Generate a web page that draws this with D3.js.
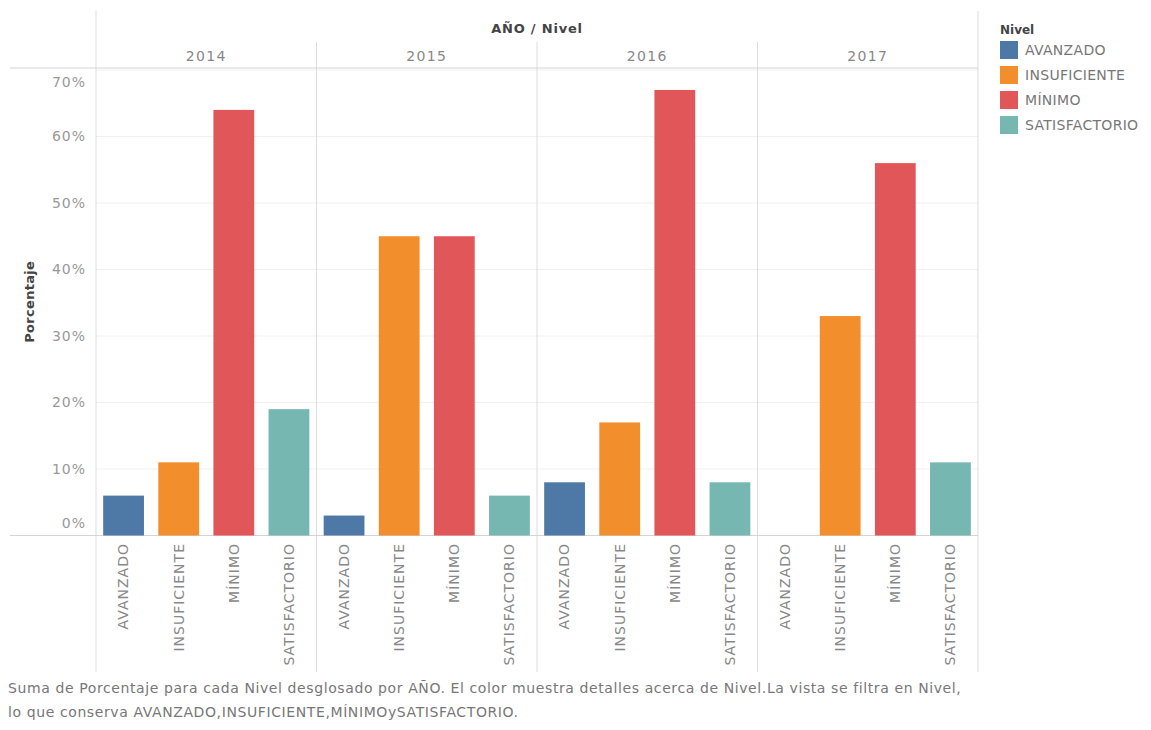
<!DOCTYPE html>
<html>
<head>
    <title>Porcentaje por Nivel</title>
    <script src="https://d3js.org/d3.v7.min.js"></script>
    <style>
        body { margin: 0; background: #fff; }
        text { font-family: "DejaVu Sans", Verdana, sans-serif; }
    </style>
</head>
<body>
<div id="chart"></div>
<script type="text/javascript">
    // data
    const years = ['2014', '2015', '2016', '2017'];
    const levels = ['AVANZADO', 'INSUFICIENTE', 'MÍNIMO', 'SATISFACTORIO'];
    const avanzado = [6, 3, 8, 0];
    const insuficiente = [11, 45, 17, 33];
    const minimo = [64, 45, 67, 56];
    const satisfactorio = [19, 6, 8, 11];
    const yTicks = [0, 10, 20, 30, 40, 50, 60, 70];
    const caption = [
        'Suma de Porcentaje para cada Nivel desglosado por AÑO. El color muestra detalles acerca de Nivel.La vista se filtra en Nivel,',
        'lo que conserva AVANZADO,INSUFICIENTE,MÍNIMOySATISFACTORIO.'
    ];

    const series = [avanzado, insuficiente, minimo, satisfactorio];
    const rows = [];
    years.forEach((yr, i) => levels.forEach((lv, j) => rows.push({year: yr, level: lv, value: series[j][i]})));

    const width = 1151, height = 730;
    const plotLeft = 96, plotRight = 978, plotTop = 68, plotBottom = 535.5;

    const svg = d3.select('#chart').append('svg').attr('width', width).attr('height', height);

    const color = d3.scaleOrdinal(levels, ['#4e79a7', '#f28e2b', '#e15759', '#76b7b2']);
    const x0 = d3.scaleBand(years, [plotLeft, plotRight]);
    const x1 = d3.scaleBand(levels, [0, x0.bandwidth()]).paddingInner(0.26).paddingOuter(0.13);
    const y = d3.scaleLinear([0, 70], [plotBottom, 70]);

    // gridlines
    svg.append('g').selectAll('line').data(yTicks.slice(1)).join('line')
        .attr('x1', plotLeft).attr('x2', plotRight)
        .attr('y1', d => y(d)).attr('y2', d => y(d))
        .attr('stroke', '#f0f0f0');

    // panel borders
    svg.append('line').attr('x1', plotLeft).attr('x2', plotLeft).attr('y1', 11).attr('y2', 672).attr('stroke', '#ddd');
    svg.append('line').attr('x1', plotRight).attr('x2', plotRight).attr('y1', 11).attr('y2', 672).attr('stroke', '#ddd');
    svg.append('g').selectAll('line').data(years.slice(1)).join('line')
        .attr('x1', d => x0(d)).attr('x2', d => x0(d))
        .attr('y1', 42).attr('y2', 672).attr('stroke', '#ddd');
    svg.append('line').attr('x1', 10).attr('x2', plotRight).attr('y1', plotTop).attr('y2', plotTop).attr('stroke', '#d4d4d4');
    svg.append('line').attr('x1', 10).attr('x2', plotRight).attr('y1', plotBottom).attr('y2', plotBottom).attr('stroke', '#d4d4d4');

    // header
    svg.append('text').attr('x', (plotLeft + plotRight) / 2).attr('y', 33)
        .attr('text-anchor', 'middle').attr('font-size', 13).attr('font-weight', 'bold')
        .attr('letter-spacing', 0.8).attr('fill', '#444')
        .text('AÑO / Nivel');
    svg.append('g').selectAll('text').data(years).join('text')
        .attr('x', d => x0(d) + x0.bandwidth() / 2).attr('y', 61)
        .attr('text-anchor', 'middle').attr('font-size', 14).attr('letter-spacing', 1.4).attr('fill', '#888')
        .text(d => d);

    // y axis labels
    svg.append('g').selectAll('text').data(yTicks).join('text')
        .attr('x', 86)
        .attr('y', d => Math.max(Math.min(y(d), plotBottom - 12), 82))
        .attr('dy', '0.35em').attr('text-anchor', 'end')
        .attr('font-size', 14).attr('letter-spacing', 1).attr('fill', '#999')
        .text(d => d + '%');
    svg.append('text').attr('transform', `translate(34,${(plotTop + plotBottom) / 2}) rotate(-90)`)
        .attr('text-anchor', 'middle').attr('font-size', 13).attr('font-weight', 'bold')
        .attr('letter-spacing', 0.3).attr('fill', '#444')
        .text('Porcentaje');

    // bars
    svg.append('g').selectAll('rect').data(rows.filter(d => d.value > 0)).join('rect')
        .attr('x', d => x0(d.year) + x1(d.level))
        .attr('width', x1.bandwidth())
        .attr('y', d => y(d.value))
        .attr('height', d => y(0) - y(d.value))
        .attr('fill', d => color(d.level));

    // x labels
    svg.append('g').selectAll('text').data(rows).join('text')
        .attr('transform', d => `translate(${x0(d.year) + x1(d.level) + x1.bandwidth() / 2},543) rotate(-90)`)
        .attr('dy', '0.35em').attr('text-anchor', 'end')
        .attr('font-size', 14).attr('letter-spacing', 1).attr('fill', '#888')
        .text(d => d.level);

    // legend
    const legend = svg.append('g').attr('transform', 'translate(1000,0)');
    legend.append('text').attr('x', 0).attr('y', 34).attr('font-size', 12).attr('font-weight', 'bold').attr('fill', '#444').text('Nivel');
    const item = legend.selectAll('g').data(levels).join('g')
        .attr('transform', (d, i) => `translate(0,${41 + i * 25})`);
    item.append('rect').attr('width', 18).attr('height', 18).attr('fill', d => color(d));
    item.append('text').attr('x', 25).attr('y', 9).attr('dy', '0.35em')
        .attr('font-size', 14).attr('letter-spacing', 0.3).attr('fill', '#777').text(d => d);

    // caption
    svg.append('g').selectAll('text').data(caption).join('text')
        .attr('x', 8).attr('y', (d, i) => 693 + i * 24)
        .attr('font-size', 14).attr('letter-spacing', 0.6).attr('fill', '#777')
        .text(d => d);
</script>
</body>
</html>
